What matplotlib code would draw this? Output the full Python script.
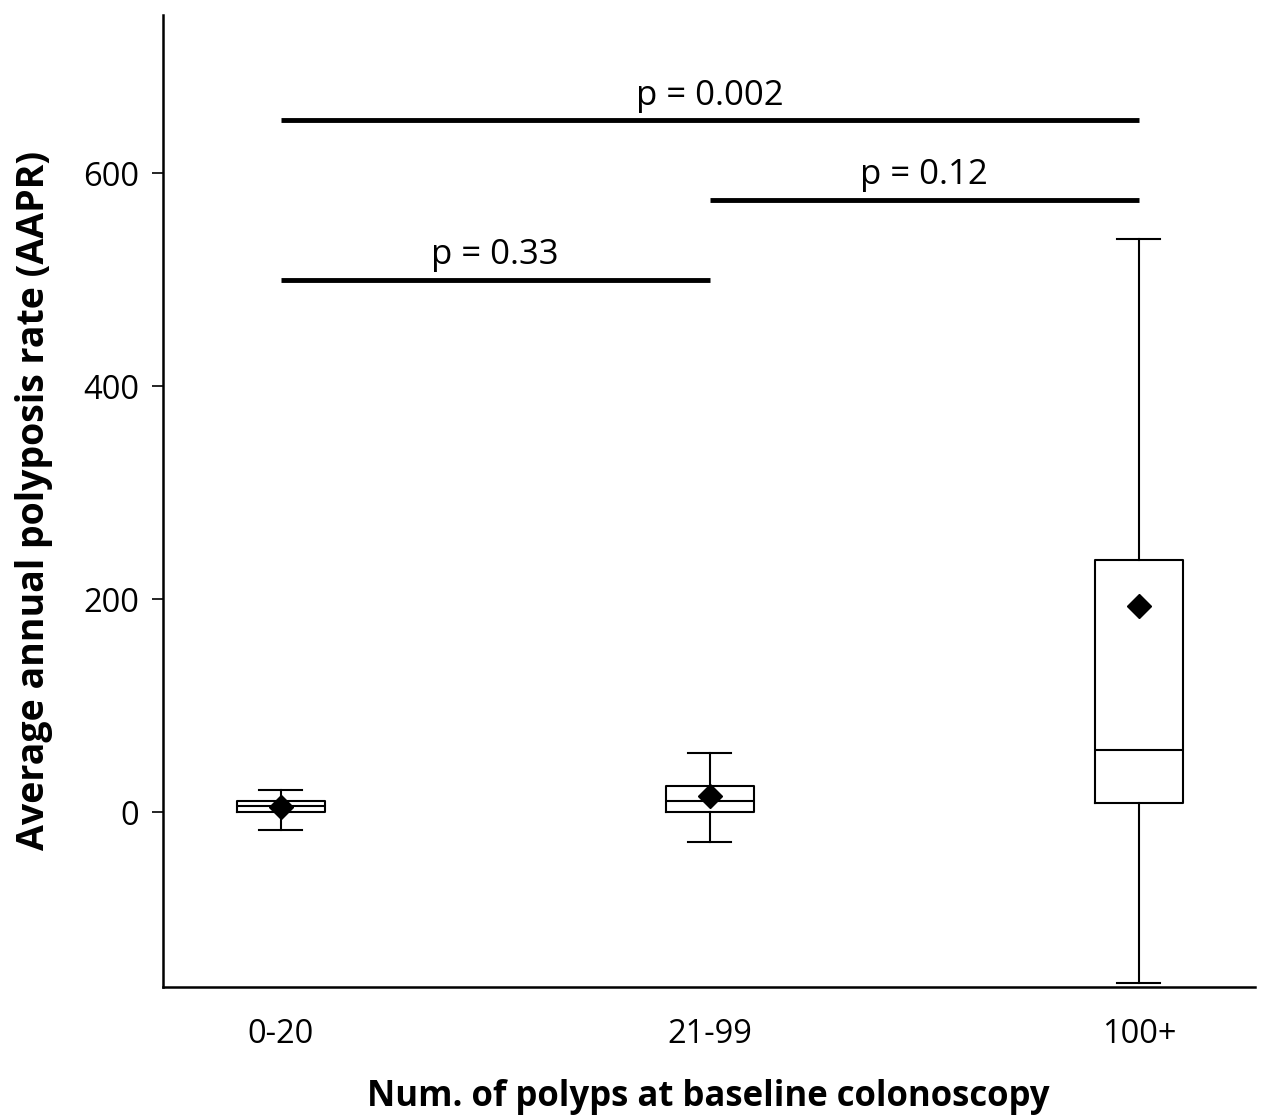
"""
Box plot of average annual polyposis rate by number of baseline polyps
output: out.png
"""
import matplotlib
matplotlib.use('Agg')
import matplotlib.pyplot as plt

plt.rcParams['font.family'] = ['Open Sans', 'DejaVu Sans']

# data
groups = ['0-20', '21-99', '100+']
whisker_lo = [-16, -28, -160]
q1 = [0.5, 0.5, 9]
median = [6, 10.5, 59]
q3 = [11, 25, 237]
whisker_hi = [21, 56, 538]
means = [5, 15, 194]

# significance brackets: (left group, right group, height, label)
pairs = [(0, 2, 650, 'p = 0.002'),
         (1, 2, 575, 'p = 0.12'),
         (0, 1, 500, 'p = 0.33')]

fig = plt.figure(figsize=(12.61, 11.18), dpi=100, facecolor='white')
ax = fig.add_axes([0.129, 0.117, 0.866, 0.870])

stats = []
for i, g in enumerate(groups):
    stats.append(dict(label=g, whislo=whisker_lo[i], q1=q1[i], med=median[i],
                      q3=q3[i], whishi=whisker_hi[i], mean=means[i], fliers=[]))

lw = 1.5
ax.bxp(stats, positions=range(len(groups)), widths=0.205, capwidths=0.1,
       showmeans=True, showfliers=False,
       boxprops=dict(color='black', linewidth=lw),
       medianprops=dict(color='black', linewidth=lw),
       whiskerprops=dict(color='black', linewidth=lw),
       capprops=dict(color='black', linewidth=lw),
       meanprops=dict(marker='D', markerfacecolor='black', markeredgecolor='black',
                      markersize=12))

for a, b, h, lab in pairs:
    ax.plot([a, b], [h, h], color='black', linewidth=3.5, solid_capstyle='butt')
    ax.text((a + b) / 2, h + 7, lab, ha='center', va='bottom', fontsize=25)

ax.set_xlim(-0.275, 2.27)
ax.set_ylim(-164, 749)
ax.set_yticks([0, 200, 400, 600])
ax.set_xticks(range(len(groups)))
ax.set_xticklabels(groups)
ax.tick_params(axis='y', labelsize=23.5, length=8, width=1.2, pad=9)
ax.tick_params(axis='x', labelsize=23.5, length=0, pad=22)

for s in ['top', 'right']:
    ax.spines[s].set_visible(False)
for s in ['left', 'bottom']:
    ax.spines[s].set_linewidth(1.8)

ax.set_xlabel('Num. of polyps at baseline colonoscopy', fontsize=25,
              fontweight='bold', labelpad=20)
ax.set_ylabel('Average annual polyposis rate (AAPR)', fontsize=27,
              fontweight='bold', labelpad=22)

plt.savefig('out.png', dpi=100, facecolor='white')
plt.close()
